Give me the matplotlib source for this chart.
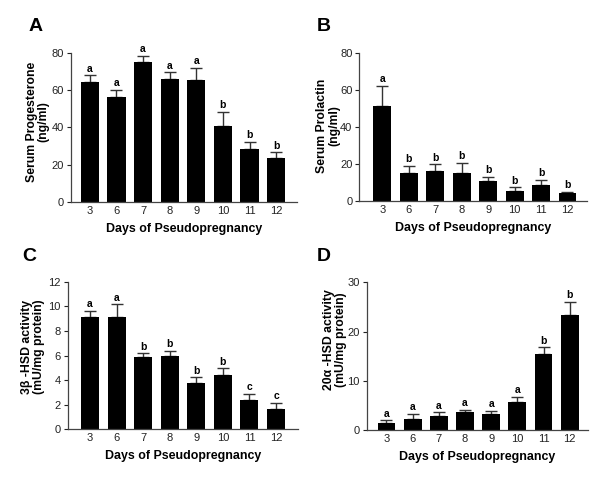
import numpy as np
import matplotlib.pyplot as plt

plt.rcParams.update({"font.family": ["Liberation Sans", "DejaVu Sans"],
                     "axes.linewidth": 0.9, "axes.edgecolor": "#444444",
                     "xtick.color": "#222222", "ytick.color": "#222222"})

days = ["3", "6", "7", "8", "9", "10", "11", "12"]

prog = [64.7, 56.4, 75.3, 66.2, 65.4, 41.0, 28.2, 23.4]
prog_err = [3.3, 4.0, 3.4, 3.4, 6.5, 7.2, 3.8, 3.2]
prog_sig = ["a", "a", "a", "a", "a", "b", "b", "b"]

prl = [51.4, 15.0, 16.4, 15.5, 10.8, 5.4, 9.0, 4.5]
prl_err = [11.1, 4.0, 3.5, 5.4, 2.2, 2.0, 2.4, 0.5]
prl_sig = ["a", "b", "b", "b", "b", "b", "b", "b"]

hsd3 = [9.16, 9.16, 5.85, 5.99, 3.74, 4.44, 2.38, 1.65]
hsd3_err = [0.49, 1.0, 0.33, 0.38, 0.49, 0.52, 0.47, 0.49]
hsd3_sig = ["a", "a", "b", "b", "b", "b", "c", "c"]

hsd20 = [1.43, 2.3, 2.92, 3.6, 3.19, 5.63, 15.5, 23.4]
hsd20_err = [0.54, 0.96, 0.68, 0.54, 0.68, 1.16, 1.3, 2.7]
hsd20_sig = ["a", "a", "a", "a", "a", "a", "b", "b"]

panels = [
    ("A", prog, prog_err, prog_sig, "Serum Progesterone\n(ng/ml)", 80, [0, 20, 40, 60, 80],
     [0.1183, 0.579, 0.377, 0.310], (-0.71, 7.79), (-0.094, 0.54)),
    ("B", prl, prl_err, prl_sig, "Serum Prolactin\n(ng/ml)", 80, [0, 20, 40, 60, 80],
     [0.599, 0.580, 0.379, 0.309], (-0.87, 7.73), (-0.085, 0.51)),
    ("C", hsd3, hsd3_err, hsd3_sig, "3\u03b2 -HSD activity\n(mU/mg protein)", 12, [0, 2, 4, 6, 8, 10, 12],
     [0.1128, 0.1038, 0.384, 0.308], (-0.84, 7.83), (-0.10, 0.56)),
    ("D", hsd20, hsd20_err, hsd20_sig, "20\u03b1 -HSD activity\n(mU/mg protein)", 30, [0, 10, 20, 30],
     [0.611, 0.1023, 0.369, 0.308], (-0.76, 7.7), (-0.09, 0.61)),
]

letter_pos = {"A": (0.047, 0.945), "B": (0.528, 0.945), "C": (0.037, 0.465), "D": (0.528, 0.465)}

fig = plt.figure(figsize=(6, 4.79), dpi=100)
for letter, vals, errs, sig, ylab, ymax, yt, rect, xl, ylpos in panels:
    ax = fig.add_axes(rect)
    x = np.arange(len(days))
    ax.bar(x, vals, width=0.68, color="black", zorder=2)
    ax.errorbar(x, vals, yerr=[np.zeros(len(errs)), errs], fmt="none",
                ecolor="#333333", elinewidth=1.0, capsize=4, capthick=1.0, zorder=1)
    for xi, v, e, s in zip(x, vals, errs, sig):
        ax.text(xi, v + e + ymax * 0.012, s, ha="center", va="bottom",
                fontsize=7.5, fontweight="bold")
    ax.set_ylim(0, ymax)
    ax.set_xlim(*xl)
    ax.set_yticks(yt)
    ax.set_xticks(x)
    ax.set_xticklabels(days)
    ax.tick_params(axis="y", length=3, width=0.8, labelsize=8, pad=2)
    ax.tick_params(axis="x", length=0, labelsize=8, pad=3)
    for s in ["top", "right"]:
        ax.spines[s].set_visible(False)
    ax.set_xlabel("Days of Pseudopregnancy", fontsize=8.9, fontweight="bold", labelpad=5)
    ax.set_ylabel(ylab, fontsize=8.8, fontweight="bold", linespacing=1.0)
    ax.yaxis.set_label_coords(*ylpos)
    fig.text(*letter_pos[letter], letter, fontsize=14, fontweight="bold", ha="left", va="center")

fig.savefig("out.png", dpi=100)
